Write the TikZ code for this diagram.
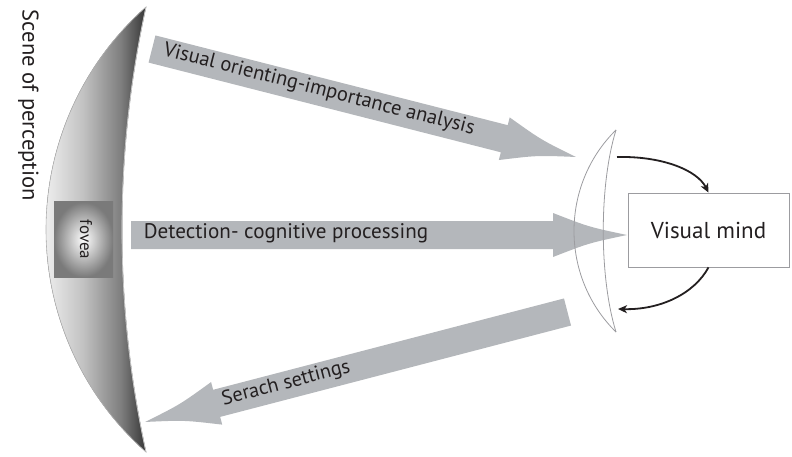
\documentclass[tikz,border=0pt]{standalone}
\usepackage{fontspec}
\setmainfont{PT Sans}
\usetikzlibrary{calc,arrows.meta}

\definecolor{ink}{HTML}{231F20}
\definecolor{bandgray}{HTML}{B4B7BB}
\definecolor{rimgray}{HTML}{9C9CA0}
\definecolor{retA}{HTML}{EDEDED}
\definecolor{retB}{HTML}{C2C2C2}
\definecolor{retC}{HTML}{7E7E7E}
\definecolor{retD}{HTML}{363636}

% light outer rim fading to a dark inner rim
\pgfdeclarehorizontalshading{retina}{100bp}{%
  color(0bp)=(retA); color(25bp)=(retA); color(43.5bp)=(retB);
  color(62.5bp)=(retC); color(75bp)=(retD); color(100bp)=(retD)}

% Broad grey arrow with a concave head, from coordinate #1 to coordinate #2
\newcommand\widearrow[2]{%
  \pgfpointdiff{\pgfpointanchor{#1}{center}}{\pgfpointanchor{#2}{center}}%
  \pgfgetlastxy\wax\way
  \pgfmathsetmacro\waang{atan2(\way,\wax)}%
  \pgfmathsetmacro\walen{veclen(\wax,\way)}%
  \fill[bandgray, shift={(#1)}, rotate=\waang]
    (0,-14) -- (\walen-74,-14) -- (\walen-74,-22)
    .. controls (\walen-38,-8) .. (\walen,0)
    .. controls (\walen-38,8) .. (\walen-74,22)
    -- (\walen-74,14) -- (0,14) -- cycle;}

\tikzset{
  bandlabel/.style={text=ink, text height=0.7em, text depth=0pt,
    inner sep=0pt, sloped},
  lensline/.style={draw=rimgray, line width=0.8pt},
  loop/.style={draw=ink, line width=1.8pt,
    -{Stealth[length=9pt,width=8pt,inset=2.5pt]}},
}

\begin{document}
\begin{tikzpicture}[x=1pt, y=-1pt]
\useasboundingbox (0,0) rectangle (792,457);

% ---- retina crescent
\fill[shading=retina, draw=black!30, line width=0.6pt]
  plot[variable=\t, domain=7:452, samples=80]
    ({343.5-100*sqrt(8.8506-((\t-229.5)/100)^2)}, \t)
  -- plot[variable=\t, domain=452:7, samples=80]
    ({1165.4-100*sqrt(108.868-((\t-229.5)/100)^2)}, \t)
  -- cycle;
% bright edge along the inner rim
\draw[black!22, line width=0.7pt]
  plot[variable=\t, domain=7:452, samples=80]
    ({1165.4-100*sqrt(108.868-((\t-229.5)/100)^2)}, \t);

% ---- fovea patch
\node[rectangle, minimum width=59pt, minimum height=75pt, inner sep=0pt,
      shading=radial, inner color=white, outer color=black!52]
  (fov) at (83.5,239.5) {};
\node[rotate=-90, text=ink, font=\fontsize{17}{19}\selectfont,
      text height=0.7em, text depth=0pt, inner sep=0pt]
  (fovtxt) at (fov.center) {fovea};

% ---- side caption
\node[rotate=-90, text=ink, font=\fontsize{22.6}{26}\selectfont,
      text height=0.7em, text depth=0pt, inner sep=0pt]
  (scene) at (26,105.5) {Scene of perception};

% ---- visual mind and its lens
\node[draw=rimgray, line width=0.8pt, minimum width=161pt, minimum height=74pt,
      inner sep=0pt, text=ink, font=\fontsize{23}{26}\selectfont]
  (vm) at (708.5,230) {Visual mind};

\coordinate (lensTop) at (616,130);
\coordinate (lensBot) at (616,332);

% ---- broad grey arrows
\coordinate (s1) at (152,49);
\coordinate (t1) at (576,157);
\coordinate (s2) at (131,235);
\coordinate (t2) at (627,235);
\coordinate (s3) at (567.5,312);
\coordinate (t3) at (145,422);
\widearrow{s1}{t1}
\widearrow{s2}{t2}
\widearrow{s3}{t3}

% lens outline drawn over the arrow heads
\draw[lensline] (lensTop) .. controls (560,185) and (560,277) .. (lensBot);
\draw[lensline] (lensTop) .. controls (599,185) and (599,277) .. (lensBot);

% ---- arrow captions
\path (s1) -- (t1) node[bandlabel, pos=0.393,
  font=\fontsize{20.5}{24}\selectfont] (capA)
  {Visual orienting-importance analysis};
\path (s2) -- (t2) node[bandlabel, pos=0.3125,
  font=\fontsize{21.1}{24}\selectfont] (capB)
  {Detection- cognitive processing};
\path (s3) -- (t3) node[bandlabel, pos=0.665,
  font=\fontsize{20.2}{24}\selectfont] (capC)
  {Serach settings};

% ---- feedback loop between lens and mind
\coordinate (lensOut) at (617,157);
\coordinate (lensIn) at (618,309);
\draw[loop] (lensOut) .. controls (662,156) and (697,170) .. (vm.north);
\draw[loop] (vm.south) .. controls (694,294) and (660,310) .. (lensIn);

\end{tikzpicture}
\end{document}
